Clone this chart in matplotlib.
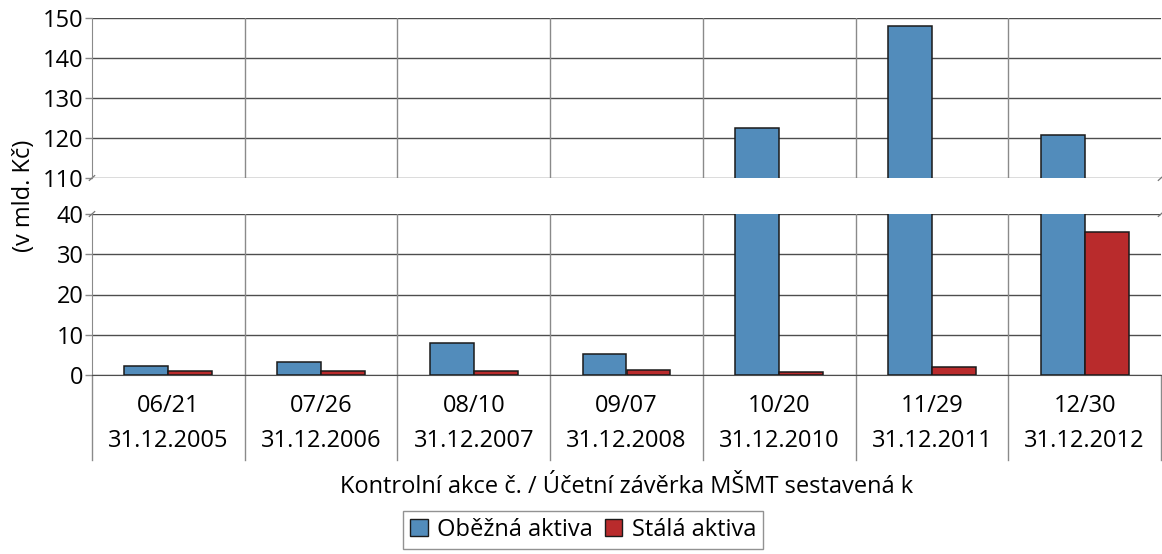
import numpy as np
import matplotlib
matplotlib.use("Agg")
import matplotlib.pyplot as plt
from matplotlib.patches import Patch

# data
akce = ["06/21", "07/26", "08/10", "09/07", "10/20", "11/29", "12/30"]
zaverka = ["31.12.2005", "31.12.2006", "31.12.2007", "31.12.2008",
           "31.12.2010", "31.12.2011", "31.12.2012"]
obezna = [2.3, 3.2, 7.9, 5.1, 122.4, 148.1, 120.7]
stala = [1.0, 1.0, 1.0, 1.2, 0.8, 2.1, 35.6]

top_ticks = [110, 120, 130, 140, 150]
bottom_ticks = [0, 10, 20, 30, 40]

BLUE = "#528cbb"
RED = "#b92b2c"
GRID = "#4d4d4d"
SEP = "#8a8a8a"
FS = 17

plt.rcParams["font.family"] = ["Open Sans", "DejaVu Sans"]

W, H = 1162, 554
fig = plt.figure(figsize=(W / 100, H / 100), dpi=100)


def px_axes(left, top, right, bottom):
    return fig.add_axes([left / W, 1 - bottom / H, (right - left) / W, (bottom - top) / H])


ax_top = px_axes(92, 18, 1161, 178)
ax_bot = px_axes(92, 214, 1161, 375)

x = np.arange(len(akce))
w = 0.288

for ax, lo, hi, ticks in [(ax_top, 110, 150, top_ticks), (ax_bot, 0, 40, bottom_ticks)]:
    ax.bar(x - w / 2, obezna, w, color=BLUE, edgecolor="#1a1a1a", linewidth=1.1, zorder=3)
    ax.bar(x + w / 2, stala, w, color=RED, edgecolor="#1a1a1a", linewidth=1.1, zorder=3)
    ax.set_ylim(lo, hi)
    ax.set_xlim(-0.5, len(akce) - 0.5)
    ax.set_yticks(ticks)
    ax.set_xticks([])
    for t in ticks:
        ax.axhline(t, color=GRID, linewidth=1.0, zorder=1)
    for s in np.arange(0.5, len(akce) - 0.5, 1):
        ax.axvline(s, color=SEP, linewidth=1.0, zorder=1)
    for side in ["top", "right", "bottom"]:
        ax.spines[side].set_visible(False)
    ax.spines["left"].set_color(SEP)
    ax.tick_params(axis="y", length=5, width=1, color=SEP, labelsize=FS, pad=1)

ax_bot.spines["bottom"].set_visible(True)
ax_bot.spines["bottom"].set_color(GRID)

# little break marks on the cut
for ax, yy in [(ax_top, 0.0), (ax_bot, 1.0)]:
    for xx in [0.0, 1.0]:
        ax.plot([xx - 0.0025, xx + 0.0025], [yy - 0.015, yy + 0.015], transform=ax.transAxes,
                color="#777777", linewidth=0.9, clip_on=False)

# separators in the category label area
trans = ax_bot.get_xaxis_transform()
for s in np.arange(-0.5, len(akce) + 0.5, 1):
    ax_bot.plot([s, s], [0, -0.53], transform=trans, color=SEP, linewidth=1.0, clip_on=False)

for i in range(len(akce)):
    ax_bot.text(i, -0.19, akce[i], transform=trans, ha="center", va="center", fontsize=FS)
    ax_bot.text(i, -0.41, zaverka[i], transform=trans, ha="center", va="center", fontsize=FS)

fig.text(627 / W, 1 - 487 / H, "Kontrolní akce č. / Účetní závěrka MŠMT sestavená k",
         ha="center", va="center", fontsize=FS)
fig.text(24 / W, 1 - 196 / H, "(v mld. Kč)", rotation=90, ha="center", va="center", fontsize=FS)

handles = [Patch(facecolor=BLUE, edgecolor="#1a1a1a", label="Oběžná aktiva"),
           Patch(facecolor=RED, edgecolor="#1a1a1a", label="Stálá aktiva")]
leg = fig.legend(handles=handles, loc="upper center", bbox_to_anchor=(583 / W, 1 - 511 / H),
                 ncol=2, fontsize=FS, frameon=True, fancybox=False, edgecolor="#777777",
                 handlelength=0.75, handleheight=0.75, handletextpad=0.4, columnspacing=0.5,
                 borderpad=0.3, borderaxespad=0)
leg.get_frame().set_linewidth(1.0)

fig.savefig("out.png", dpi=100)
